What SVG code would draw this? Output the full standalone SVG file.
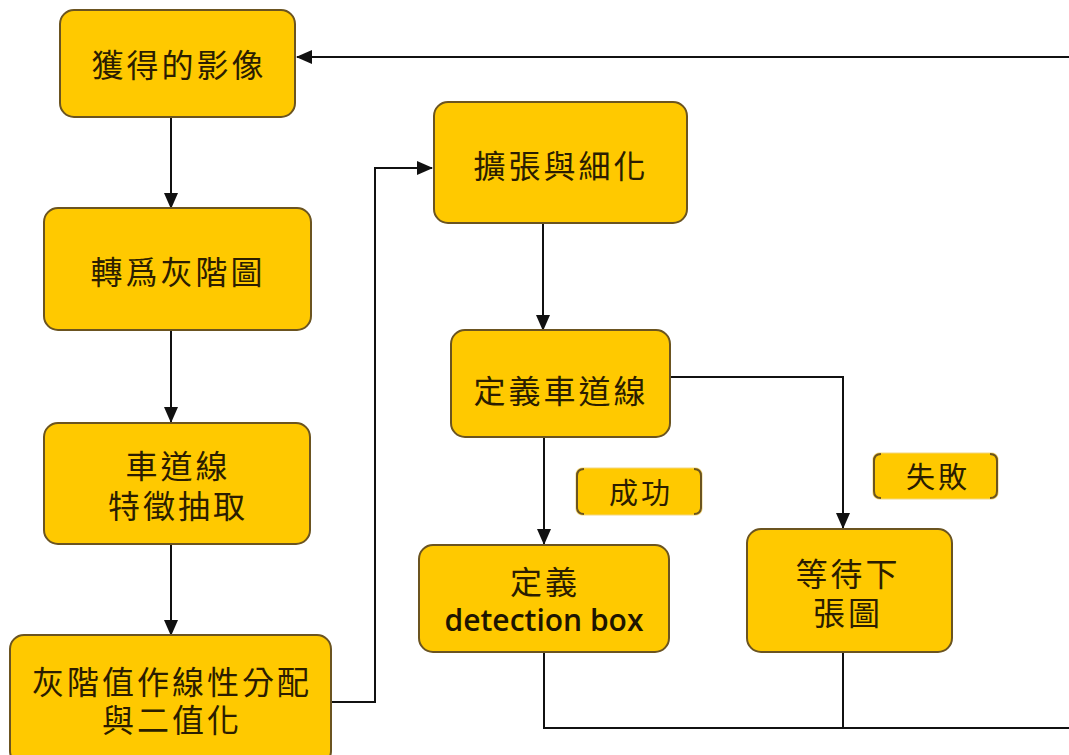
<svg xmlns="http://www.w3.org/2000/svg" width="1069" height="755" viewBox="0 0 1069 755">
<style>
.box{fill:#FFC900;stroke:#6B5420;stroke-width:2}
.lbl{fill:#FFC900;stroke:#F2D680;stroke-width:1}
.brk{fill:none;stroke:#6B5420;stroke-width:2}
.t{font-family:"Noto Sans CJK TC","Noto Sans CJK SC",sans-serif;font-size:32px;letter-spacing:3px;fill:#2B1D00;text-anchor:middle}
.e{font-family:"Open Sans","Lato",sans-serif;font-size:30px;font-weight:600;fill:#1E1500;text-anchor:middle}
.c{fill:none;stroke:#111;stroke-width:2}
</style>
<defs>
<marker id="ah" markerUnits="userSpaceOnUse" markerWidth="16" markerHeight="16" viewBox="0 0 16 16" refX="15" refY="8" orient="auto">
<path d="M0,1 L16,8 L0,15 Z" fill="#111"/>
</marker>
</defs>
<rect width="1069" height="755" fill="#fff"/>
<g id="connectors">
<path class="c" d="M1069,57 L297,57" marker-end="url(#ah)"/>
<path class="c" d="M171,117 L171,208" marker-end="url(#ah)"/>
<path class="c" d="M171,330 L171,422" marker-end="url(#ah)"/>
<path class="c" d="M171,545 L171,635" marker-end="url(#ah)"/>
<path class="c" d="M331,702 L375,702 L375,168 L432,168" marker-end="url(#ah)"/>
<path class="c" d="M543,223 L543,330" marker-end="url(#ah)"/>
<path class="c" d="M670,377 L843,377 L843,528" marker-end="url(#ah)"/>
<path class="c" d="M544,437 L544,544" marker-end="url(#ah)"/>
<path class="c" d="M544,652 L544,728 L1069,728"/>
<path class="c" d="M843,652 L843,728"/>
</g>
<g id="n1"><rect class="box" x="60" y="10" width="235" height="107" rx="14"/><text class="t" x="179" y="77">獲得的影像</text></g>
<g id="n2"><rect class="box" x="44" y="208" width="267" height="122" rx="14"/><text class="t" x="178" y="284">轉爲灰階圖</text></g>
<g id="n3"><rect class="box" x="44" y="423" width="266" height="121" rx="14"/><text class="t" x="178" y="478">車道線</text><text class="t" x="178" y="518">特徵抽取</text></g>
<g id="n4"><rect class="box" x="10" y="635" width="321" height="130" rx="14"/><text class="t" x="172" y="694">灰階值作線性分配</text><text class="t" x="172" y="732">與二值化</text></g>
<g id="n5"><rect class="box" x="434" y="102" width="253" height="121" rx="14"/><text class="t" x="561" y="178">擴張與細化</text></g>
<g id="n6"><rect class="box" x="451" y="330" width="219" height="107" rx="14"/><text class="t" x="561" y="403">定義車道線</text></g>
<g id="n7"><rect class="box" x="419" y="545" width="250" height="107" rx="14"/><text class="t" x="545" y="594">定義</text><text class="e" x="544" y="631">detection box</text></g>
<g id="n8"><rect class="box" x="747" y="529" width="205" height="123" rx="14"/><text class="t" x="848" y="586">等待下</text><text class="t" x="848" y="625">張圖</text></g>
<g id="l1"><rect class="lbl" x="576" y="468" width="126" height="47" rx="6"/><path class="brk" d="M584,469 Q577,469 577,476 L577,507 Q577,514 584,514"/><path class="brk" d="M694,469 Q701,469 701,476 L701,507 Q701,514 694,514"/><text class="t" x="641" y="504" style="font-size:29px">成功</text></g>
<g id="l2"><rect class="lbl" x="873" y="453" width="125" height="46" rx="6"/><path class="brk" d="M881,454 Q874,454 874,461 L874,491 Q874,498 881,498"/><path class="brk" d="M990,454 Q997,454 997,461 L997,491 Q997,498 990,498"/><text class="t" x="938" y="488" style="font-size:29px">失敗</text></g>
</svg>
